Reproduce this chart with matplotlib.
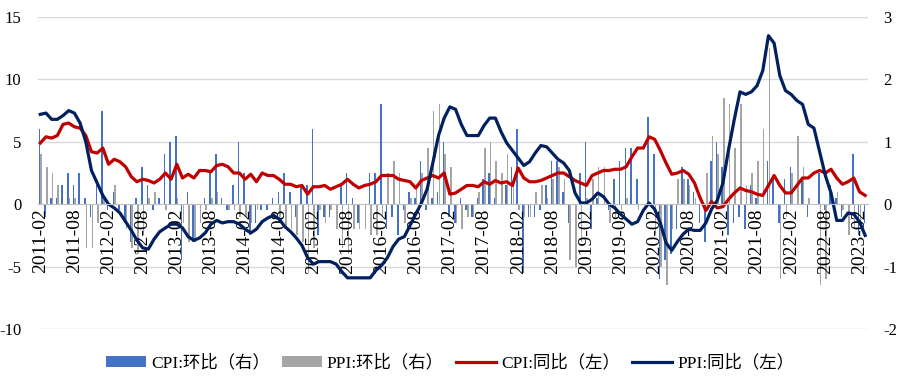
import matplotlib
matplotlib.use("Agg")
import matplotlib.pyplot as plt
import numpy as np
import pandas as pd

plt.rcParams['font.family'] = ['Liberation Serif', 'Noto Sans CJK SC']
plt.rcParams['axes.unicode_minus'] = False

# monthly, 2011-02 .. 2023-03
months = pd.period_range('2011-02', '2023-03', freq='M').strftime('%Y-%m').tolist()

cpi_yoy = [4.9, 5.4, 5.3, 5.5, 6.4, 6.5, 6.2, 6.1, 5.5, 4.2, 4.1,
           4.5, 3.2, 3.6, 3.4, 3.0, 2.2, 1.8, 2.0, 1.9, 1.7, 2.0, 2.5,
           2.0, 3.2, 2.1, 2.4, 2.1, 2.7, 2.7, 2.6, 3.1, 3.2, 3.0, 2.5,
           2.5, 2.0, 2.4, 1.8, 2.5, 2.3, 2.3, 2.0, 1.6, 1.6, 1.4, 1.5,
           0.8, 1.4, 1.4, 1.5, 1.2, 1.4, 1.6, 2.0, 1.6, 1.3, 1.5, 1.6,
           1.8, 2.3, 2.3, 2.3, 2.0, 1.9, 1.8, 1.3, 1.9, 2.1, 2.3, 2.1,
           2.5, 0.8, 0.9, 1.2, 1.5, 1.5, 1.4, 1.8, 1.6, 1.9, 1.7, 1.8,
           1.5, 2.9, 2.1, 1.8, 1.8, 1.9, 2.1, 2.3, 2.5, 2.5, 2.2, 1.9,
           1.7, 1.5, 2.3, 2.5, 2.7, 2.7, 2.8, 2.8, 3.0, 3.8, 4.5, 4.5,
           5.4, 5.2, 4.3, 3.3, 2.4, 2.5, 2.7, 2.4, 1.7, 0.5, -0.5, 0.2,
           -0.3, -0.2, 0.4, 0.9, 1.3, 1.1, 1.0, 0.8, 0.7, 1.5, 2.3, 1.5,
           0.9, 0.9, 1.5, 2.1, 2.1, 2.5, 2.7, 2.5, 2.8, 2.1, 1.6, 1.8,
           2.1, 1.0, 0.7]

ppi_yoy = [7.2, 7.3, 6.8, 6.8, 7.1, 7.5, 7.3, 6.5, 5.0, 2.7, 1.7,
           0.7, 0.0, -0.3, -0.7, -1.4, -2.1, -2.9, -3.5, -3.6, -2.8, -2.2, -1.9,
           -1.6, -1.6, -1.9, -2.6, -2.9, -2.7, -2.3, -1.6, -1.3, -1.5, -1.4, -1.4,
           -1.6, -2.0, -2.3, -2.0, -1.4, -1.1, -0.9, -1.2, -1.8, -2.2, -2.7, -3.3,
           -4.3, -4.8, -4.6, -4.6, -4.6, -4.8, -5.4, -5.9, -5.9, -5.9, -5.9, -5.9,
           -5.3, -4.9, -4.3, -3.4, -2.8, -2.6, -1.7, -0.8, 0.1, 1.2, 3.3, 5.5,
           6.9, 7.8, 7.6, 6.4, 5.5, 5.5, 5.5, 6.3, 6.9, 6.9, 5.8, 4.9,
           4.3, 3.7, 3.1, 3.4, 4.1, 4.7, 4.6, 4.1, 3.6, 3.3, 2.7, 0.9,
           0.1, 0.1, 0.4, 0.9, 0.6, 0.0, -0.3, -0.8, -1.2, -1.6, -1.4, -0.5,
           0.1, -0.4, -1.5, -3.1, -3.7, -3.0, -2.4, -2.0, -2.1, -2.1, -1.5, -0.4,
           0.3, 1.7, 4.4, 6.8, 9.0, 8.8, 9.0, 9.5, 10.7, 13.5, 12.9, 10.3,
           9.1, 8.8, 8.3, 8.0, 6.4, 6.1, 4.2, 2.3, 0.9, -1.3, -1.3, -0.7,
           -0.8, -1.4, -2.5]

cpi_mom = [1.2, -0.2, 0.1, 0.1, 0.3, 0.5, 0.3, 0.5, 0.1, -0.2, 0.3,
           1.5, -0.1, 0.2, -0.1, -0.3, -0.6, 0.1, 0.6, 0.3, -0.1, 0.1, 0.8,
           1.0, 1.1, -0.9, 0.2, -0.6, 0.0, 0.1, 0.5, 0.8, 0.1, -0.1, 0.3,
           1.0, 0.5, -0.5, -0.3, -0.1, -0.1, 0.1, 0.2, 0.5, 0.2, -0.2, 0.3,
           0.3, 1.2, -0.5, -0.2, -0.2, 0.0, 0.3, 0.5, 0.1, -0.3, 0.0, 0.5,
           0.5, 1.6, -0.4, -0.2, -0.5, -0.1, 0.2, 0.1, 0.7, -0.1, 0.1, 0.2,
           1.0, -0.2, -0.3, 0.1, -0.1, -0.2, 0.1, 0.4, 0.5, 0.1, 0.0, 0.3,
           0.6, 1.2, -1.1, -0.2, -0.2, -0.1, 0.3, 0.7, 0.7, 0.2, -0.3, 0.0,
           0.5, 1.0, -0.4, 0.1, 0.0, -0.1, 0.4, 0.7, 0.9, 0.9, 0.4, 0.0,
           1.4, 0.8, -1.2, -0.9, -0.8, -0.4, 0.6, 0.4, 0.2, -0.3, -0.6, 0.7,
           1.0, 0.6, -0.5, -0.3, -0.2, -0.4, 0.3, 0.1, 0.0, 0.7, 0.4, -0.3,
           0.4, 0.6, 0.0, 0.4, -0.2, 0.0, 0.5, -0.1, 0.3, 0.1, -0.2, 0.0,
           0.8, -0.5, -0.3]

ppi_mom = [0.8, 0.6, 0.5, 0.3, 0.0, 0.1, 0.1, 0.0, -0.7, -0.7, -0.3,
           0.1, 0.0, 0.3, 0.0, -0.4, -0.7, -0.8, -0.5, 0.1, 0.2, 0.0, -0.1,
           0.0, 0.1, -0.3, -0.6, -0.6, -0.3, -0.1, 0.1, 0.2, 0.0, -0.1, -0.1,
           -0.2, -0.2, -0.3, -0.1, 0.0, 0.0, 0.0, -0.2, -0.4, -0.4, -0.5, -0.6,
           -1.1, -0.7, -0.1, -0.3, -0.1, -0.4, -0.7, -0.8, -0.4, -0.4, -0.4, -0.5,
           -0.5, -0.2, 0.5, 0.7, 0.5, -0.3, 0.1, 0.3, 0.5, 0.9, 1.5, 1.6,
           0.8, 0.6, -0.3, -0.4, -0.2, -0.2, 0.2, 0.9, 1.0, 0.7, 0.5, 0.8,
           0.3, -0.1, -0.2, -0.2, 0.2, 0.3, 0.1, 0.4, 0.6, 0.4, -0.9, -1.0,
           -0.6, 0.1, 0.4, 0.6, 0.6, -0.3, -0.2, -0.1, 0.1, 0.0, -0.1, 0.0,
           0.0, -0.5, -1.0, -1.3, -0.4, 0.4, 0.4, 0.3, 0.1, 0.0, 0.5, 1.1,
           0.8, 1.7, 1.6, 0.9, 1.6, 0.3, 0.5, 0.7, 1.2, 2.5, 0.0, -1.2,
           -0.2, 0.5, 1.1, 0.6, 0.1, 0.0, -1.3, -1.2, 0.1, 0.2, -0.1, -0.5,
           -0.4, -0.4, 0.0]

x = np.arange(len(months))

fig = plt.figure(figsize=(9.17, 3.81), dpi=100)
ax = fig.add_axes([38/917, 1-329/381, (868-38)/917, (329-17)/381])
ax2 = ax.twinx()

# bars on right axis
ax2.bar(x - 0.15, cpi_mom, width=0.28, color='#4472C4', label='CPI:环比（右）', zorder=1)
ax2.bar(x + 0.15, ppi_mom, width=0.28, color='#A5A5A5', label='PPI:环比（右）', zorder=1)
ax2.set_ylim(-2, 3)
ax2.set_yticks([-2, -1, 0, 1, 2, 3])

# lines on left axis, drawn above the bars
ax.set_zorder(ax2.get_zorder() + 1)
ax.patch.set_visible(False)
ax.plot(x, cpi_yoy, color='#C00000', lw=2.3, label='CPI:同比（左）')
ax.plot(x, ppi_yoy, color='#002060', lw=2.3, label='PPI:同比（左）')
ax.set_ylim(-10, 15)
ax.set_yticks([-10, -5, 0, 5, 10, 15])
ax.set_xlim(-0.4, 145.5)

for v in [-10, -5, 5, 10, 15]:
    ax2.axhline(v / 5, color='#D9D9D9', lw=1, zorder=0)

for a in (ax, ax2):
    for s in a.spines.values():
        s.set_visible(False)
ax.spines['bottom'].set_visible(True)
ax.spines['bottom'].set_position(('data', 0))
ax.spines['bottom'].set_color('#BFBFBF')

ax.set_xticks(x[::6])
ax.set_xticklabels(months[::6], rotation=90, fontsize=14)
ax.tick_params(axis='x', length=0, pad=3)
ax.tick_params(axis='y', length=0, pad=12, labelsize=12)
ax2.tick_params(axis='y', length=0, pad=11, labelsize=12)

h1, l1 = ax2.get_legend_handles_labels()
h2, l2 = ax.get_legend_handles_labels()
fig.legend(h1 + h2, l1 + l2, loc='center', bbox_to_anchor=(450/917, 1-363/381),
           ncol=4, frameon=False, fontsize=12.5, handlelength=2.3,
           handleheight=0.6, handletextpad=0.3, columnspacing=0.7)

fig.savefig('out.png', dpi=100)
